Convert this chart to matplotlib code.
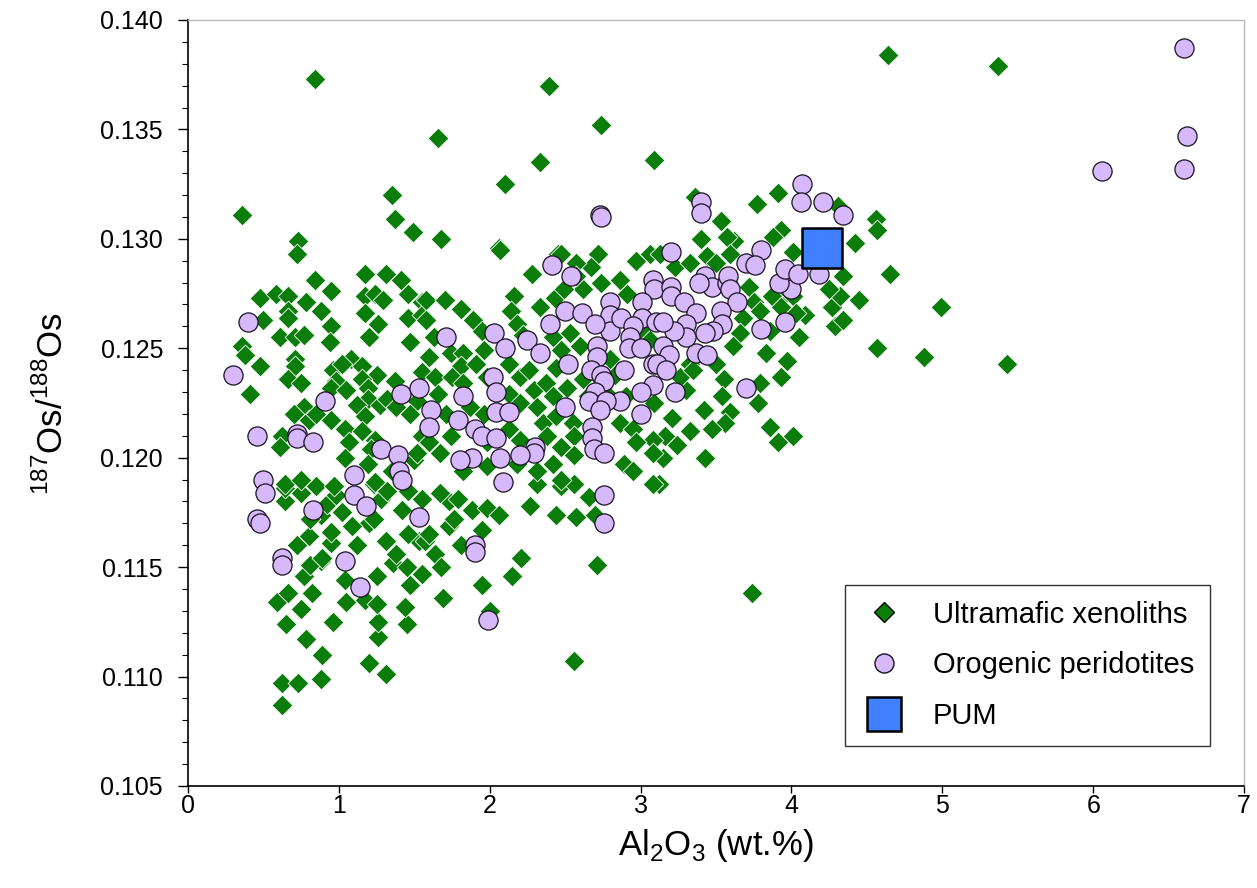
import numpy as np
import matplotlib.pyplot as plt
from matplotlib.lines import Line2D
from matplotlib.ticker import MultipleLocator, FormatStrFormatter

plt.rcParams['font.family'] = ['Liberation Sans', 'DejaVu Sans']
plt.rcParams['mathtext.fontset'] = 'custom'
plt.rcParams['mathtext.rm'] = 'Liberation Sans'

# ── Ultramafic xenoliths: Al2O3 (wt.%) and 187Os/188Os ──────
xeno_al = [
    0.84, 0.36, 1.35, 1.37, 1.49, 0.73, 0.72, 2.39, 2.74, 1.66,
    2.33, 3.09, 2.10, 1.68, 2.06, 2.45, 2.72, 3.06, 4.64, 3.91,
    3.77, 3.36, 4.31, 4.56, 4.57, 3.53, 4.42, 3.40, 3.93, 3.88,
    3.62, 3.57, 4.01, 5.37, 4.99, 4.88, 5.43,
    4.65, 4.45, 4.57, 4.29, 4.34, 4.27, 4.32, 4.34, 4.25, 3.83,
    3.97, 3.93, 4.05, 4.09, 3.92, 4.01, 3.79, 3.78, 3.55, 3.54,
    3.59, 3.56, 3.86, 3.91, 4.01, 3.30, 3.21, 3.16, 3.24, 3.15,
    3.43, 3.12, 3.08, 3.09,
    0.62, 0.62, 0.73, 0.88, 0.89, 1.20, 1.31, 0.78, 0.65, 0.96,
    1.26, 1.26, 1.45, 0.59, 0.66, 0.75, 0.82, 1.05, 1.17, 1.25,
    1.44, 1.04, 0.77, 1.25, 1.47, 0.88, 0.81, 0.72, 0.80, 0.95,
    1.12, 1.31, 1.36, 1.45, 1.55, 1.53, 1.46, 1.20, 1.23, 1.09,
    0.95, 0.88, 0.81, 0.64, 0.64, 0.75, 0.85, 0.92, 0.98, 1.02,
    1.28, 1.23, 1.32, 1.42, 1.46, 1.55, 1.57, 1.38, 0.89,
    2.56, 2.71, 2.00, 1.69, 1.95, 2.15, 2.21, 1.64, 1.68, 1.81,
    1.95, 1.73, 1.60, 1.76, 1.88, 1.98, 2.06, 1.73, 1.79, 1.67,
    2.27, 2.44, 2.57, 2.66, 2.70, 2.31, 2.47, 2.56, 3.08, 3.74,
    0.84, 0.95, 1.17, 1.31, 1.41, 0.48, 0.58, 0.66, 0.78, 1.46,
    1.55, 1.17, 1.24, 1.29, 0.66, 0.66, 0.50, 0.88, 1.17, 1.46,
    1.55, 1.26, 0.95, 1.20, 0.61, 0.71, 0.77, 0.94, 1.47, 0.36,
    0.38, 0.48, 0.71, 0.71, 0.66, 0.75, 0.41, 0.96, 0.98, 0.95,
    1.08, 1.02, 1.15, 1.25, 1.15, 1.19, 1.05, 1.19, 1.27, 1.32,
    1.12, 1.17, 0.77, 0.70, 0.80, 0.95, 0.85, 1.55, 1.52, 1.37,
    1.38, 1.47, 1.04, 1.15, 1.07, 1.24, 1.21, 0.62, 0.61, 1.04,
    1.19, 1.35, 1.50, 0.64, 0.75, 0.97, 1.55, 1.52, 1.24,
    2.07, 2.47, 2.28, 2.67, 2.74, 2.62, 2.43, 2.16, 2.14, 1.58,
    1.70, 1.81, 1.58, 1.63, 1.89, 1.95, 2.18, 2.22, 1.60, 1.74,
    1.82, 1.96, 1.81, 1.91, 1.98, 1.64, 1.75, 1.66, 1.82, 2.13,
    2.20, 2.26, 2.29, 2.37, 2.44, 2.42, 2.51, 2.13, 2.20, 2.31,
    2.35, 2.44, 2.55, 1.71, 1.87, 1.96, 1.60, 1.74, 1.98, 2.13,
    2.20, 2.38, 2.47, 2.56, 2.56, 1.67, 1.82, 1.98, 2.18, 2.31,
    2.42, 2.47, 2.89, 2.95, 2.86, 2.95, 2.97, 3.08, 2.57, 2.57,
    2.49, 2.33, 2.97, 2.53, 2.60, 3.02, 3.06, 2.42, 2.86, 2.91,
    2.47,
    3.23, 3.33, 3.44, 3.50, 3.59, 3.13, 3.72, 3.75, 3.68, 3.79,
    3.66, 3.61, 3.50, 3.33, 3.26, 3.35, 3.86, 4.03, 3.87, 3.93,
    2.83, 2.90, 2.80, 2.78, 2.62, 2.65, 3.42, 3.47, 3.33,
]
xeno_os = [
    0.1373, 0.1311, 0.1320, 0.1309, 0.1303, 0.1299, 0.1293, 0.1370, 0.1352, 0.1346,
    0.1335, 0.1336, 0.1325, 0.1300, 0.1296, 0.1293, 0.1293, 0.1293, 0.1384, 0.1321,
    0.1316, 0.1319, 0.1315, 0.1309, 0.1304, 0.1308, 0.1298, 0.1300, 0.1304, 0.1301,
    0.1299, 0.1301, 0.1294, 0.1379, 0.1269, 0.1246, 0.1243,
    0.1284, 0.1272, 0.1250, 0.1260, 0.1263, 0.1269, 0.1274, 0.1283, 0.1277, 0.1248,
    0.1244, 0.1237, 0.1255, 0.1265, 0.1272, 0.1274, 0.1234, 0.1225, 0.1236, 0.1228,
    0.1221, 0.1216, 0.1214, 0.1207, 0.1210, 0.1231, 0.1218, 0.1210, 0.1206, 0.1200,
    0.1200, 0.1188, 0.1208, 0.1225,
    0.1087, 0.1097, 0.1097, 0.1099, 0.1110, 0.1106, 0.1101, 0.1117, 0.1124, 0.1125,
    0.1118, 0.1125, 0.1124, 0.1134, 0.1138, 0.1131, 0.1138, 0.1134, 0.1135, 0.1133,
    0.1132, 0.1144, 0.1146, 0.1146, 0.1142, 0.1153, 0.1151, 0.1160, 0.1164, 0.1161,
    0.1160, 0.1162, 0.1152, 0.1150, 0.1147, 0.1162, 0.1165, 0.1170, 0.1172, 0.1169,
    0.1166, 0.1174, 0.1172, 0.1180, 0.1186, 0.1184, 0.1187, 0.1179, 0.1183, 0.1175,
    0.1181, 0.1188, 0.1185, 0.1176, 0.1185, 0.1181, 0.1162, 0.1156, 0.1154,
    0.1107, 0.1151, 0.1130, 0.1136, 0.1142, 0.1146, 0.1154, 0.1156, 0.1150, 0.1160,
    0.1167, 0.1169, 0.1165, 0.1172, 0.1176, 0.1177, 0.1174, 0.1180, 0.1181, 0.1184,
    0.1178, 0.1174, 0.1173, 0.1182, 0.1174, 0.1188, 0.1187, 0.1188, 0.1188, 0.1138,
    0.1281, 0.1276, 0.1284, 0.1284, 0.1281, 0.1273, 0.1275, 0.1274, 0.1271, 0.1275,
    0.1271, 0.1274, 0.1275, 0.1272, 0.1267, 0.1264, 0.1263, 0.1267, 0.1266, 0.1264,
    0.1265, 0.1261, 0.1260, 0.1255, 0.1255, 0.1255, 0.1256, 0.1253, 0.1253, 0.1251,
    0.1247, 0.1242, 0.1245, 0.1242, 0.1236, 0.1234, 0.1229, 0.1240, 0.1235, 0.1232,
    0.1245, 0.1243, 0.1242, 0.1238, 0.1236, 0.1232, 0.1231, 0.1227, 0.1224, 0.1227,
    0.1224, 0.1219, 0.1223, 0.1220, 0.1217, 0.1217, 0.1220, 0.1239, 0.1226, 0.1235,
    0.1223, 0.1220, 0.1213, 0.1212, 0.1207, 0.1208, 0.1204, 0.1210, 0.1205, 0.1200,
    0.1197, 0.1194, 0.1199, 0.1188, 0.1190, 0.1187, 0.1210, 0.1202, 0.1189,
    0.1295, 0.1293, 0.1284, 0.1287, 0.1280, 0.1277, 0.1273, 0.1274, 0.1267, 0.1272,
    0.1272, 0.1268, 0.1263, 0.1255, 0.1263, 0.1258, 0.1261, 0.1256, 0.1246, 0.1248,
    0.1248, 0.1249, 0.1242, 0.1243, 0.1237, 0.1237, 0.1237, 0.1229, 0.1234, 0.1243,
    0.1237, 0.1240, 0.1231, 0.1234, 0.1241, 0.1228, 0.1232, 0.1229, 0.1225, 0.1223,
    0.1216, 0.1219, 0.1216, 0.1220, 0.1223, 0.1220, 0.1207, 0.1210, 0.1207, 0.1213,
    0.1208, 0.1210, 0.1205, 0.1210, 0.1201, 0.1202, 0.1194, 0.1196, 0.1197, 0.1194,
    0.1197, 0.1190, 0.1197, 0.1194, 0.1216, 0.1213, 0.1207, 0.1202, 0.1289, 0.1283,
    0.1277, 0.1269, 0.1290, 0.1257, 0.1251, 0.1257, 0.1254, 0.1255, 0.1281, 0.1275,
    0.1249,
    0.1287, 0.1289, 0.1292, 0.1289, 0.1293, 0.1293, 0.1278, 0.1271, 0.1264, 0.1267,
    0.1257, 0.1251, 0.1243, 0.1243, 0.1237, 0.1240, 0.1258, 0.1266, 0.1274, 0.1269,
    0.1238, 0.1228, 0.1245, 0.1229, 0.1236, 0.1228, 0.1222, 0.1213, 0.1212,
]

# ── Orogenic peridotites ────────────────────────────────────
orog_al = [
    0.40, 0.30, 0.91, 0.46, 0.72, 0.72, 0.83, 1.41, 1.53, 1.28,
    1.39, 1.40, 1.42, 1.10, 0.50, 0.51, 0.46, 0.48, 0.62, 0.62,
    0.83, 1.04, 1.14, 1.10, 1.18, 1.53, 1.99, 1.90, 1.90, 2.09,
    2.76, 2.76, 2.41, 2.54, 3.08, 3.09, 2.80, 2.80, 2.80, 2.87,
    3.01, 3.01, 2.95, 2.93, 2.92, 3.00, 3.10, 2.50, 2.61, 2.70,
    2.40, 1.71, 2.03, 2.10, 2.25, 2.33, 2.52, 2.71, 2.71, 2.67,
    2.74, 2.76, 2.89, 3.08, 3.08, 3.00, 3.00, 2.86, 2.70, 2.66,
    2.77, 2.73, 2.50, 2.68, 2.68, 2.69, 2.76, 2.02, 2.04, 2.04,
    2.13, 1.82, 1.61, 1.60, 1.79, 1.90, 1.95, 2.04, 2.30, 2.29,
    2.20, 2.07, 1.88, 1.80, 2.73, 2.74, 4.07, 3.40, 3.40, 4.06,
    4.21, 4.34, 3.80, 3.20, 6.60, 6.62, 6.60, 6.06, 4.18, 4.00,
    3.92, 3.96, 4.04, 3.96, 3.80, 3.70, 3.23, 3.20, 3.20, 3.29,
    3.37, 3.43, 3.47, 3.57, 3.58, 3.59, 3.39, 3.64, 3.53, 3.54,
    3.48, 3.43, 3.37, 3.44, 3.30, 3.30, 3.22, 3.15, 3.15, 3.19,
    3.11, 3.17, 3.70, 3.76,
]
orog_os = [
    0.1262, 0.1238, 0.1226, 0.1210, 0.1211, 0.1209, 0.1207, 0.1229, 0.1232, 0.1204,
    0.1201, 0.1194, 0.1190, 0.1192, 0.1190, 0.1184, 0.1172, 0.1170, 0.1154, 0.1151,
    0.1176, 0.1153, 0.1141, 0.1183, 0.1178, 0.1173, 0.1126, 0.1160, 0.1157, 0.1189,
    0.1183, 0.1170, 0.1288, 0.1283, 0.1281, 0.1277, 0.1271, 0.1265, 0.1258, 0.1264,
    0.1271, 0.1264, 0.1260, 0.1255, 0.1250, 0.1250, 0.1262, 0.1267, 0.1266, 0.1261,
    0.1261, 0.1255, 0.1257, 0.1250, 0.1254, 0.1248, 0.1243, 0.1251, 0.1246, 0.1240,
    0.1238, 0.1235, 0.1240, 0.1243, 0.1233, 0.1230, 0.1220, 0.1226, 0.1230, 0.1226,
    0.1226, 0.1222, 0.1223, 0.1214, 0.1209, 0.1204, 0.1202, 0.1237, 0.1230, 0.1221,
    0.1221, 0.1228, 0.1222, 0.1214, 0.1217, 0.1213, 0.1210, 0.1209, 0.1205, 0.1202,
    0.1201, 0.1200, 0.1200, 0.1199, 0.1311, 0.1310, 0.1325, 0.1317, 0.1312, 0.1317,
    0.1317, 0.1311, 0.1295, 0.1294, 0.1387, 0.1347, 0.1332, 0.1331, 0.1284, 0.1277,
    0.1280, 0.1286, 0.1284, 0.1262, 0.1259, 0.1232, 0.1230, 0.1278, 0.1274, 0.1271,
    0.1266, 0.1283, 0.1278, 0.1280, 0.1283, 0.1277, 0.1280, 0.1271, 0.1267, 0.1261,
    0.1258, 0.1257, 0.1248, 0.1247, 0.1261, 0.1255, 0.1258, 0.1262, 0.1251, 0.1247,
    0.1243, 0.1240, 0.1289, 0.1288,
]

# ── Primitive upper mantle ──────────────────────────────────
pum_al = [4.2]
pum_os = [0.1296]

GREEN = '#0b7d0b'
LILAC = '#d5b9fb'
BLUE = '#4080ff'

fig = plt.figure(figsize=(12.57, 8.88), dpi=100)
ax = fig.add_axes([0.1496, 0.1149, 0.8401, 0.8626])

ax.scatter(xeno_al, xeno_os, marker='D', s=112, color=GREEN,
           edgecolors='white', linewidths=0.6, zorder=2)
ax.scatter(orog_al, orog_os, marker='o', s=190, color=LILAC,
           edgecolors='#1a1020', linewidths=0.9, zorder=3)
ax.scatter(pum_al, pum_os, marker='s', s=800, color=BLUE,
           edgecolors='black', linewidths=1.8, zorder=4)

ax.set_xlim(0, 7)
ax.set_ylim(0.105, 0.140)
ax.xaxis.set_major_locator(MultipleLocator(1))
ax.yaxis.set_major_locator(MultipleLocator(0.005))
ax.yaxis.set_minor_locator(MultipleLocator(0.001))
ax.yaxis.set_major_formatter(FormatStrFormatter('%.3f'))
ax.tick_params(axis='y', which='major', direction='out', length=7,
               width=1, labelsize=18, pad=11)
ax.tick_params(axis='x', which='major', direction='out', length=5,
               width=1, labelsize=18, pad=1)
ax.tick_params(axis='y', which='minor', direction='out', length=4, width=0.8)
ax.tick_params(top=False, right=False)

for side in ['left', 'bottom']:
    ax.spines[side].set_linewidth(1.2)
for side in ['top', 'right']:
    ax.spines[side].set_color('#bbbbbb')
    ax.spines[side].set_linewidth(1.0)

ax.set_xlabel(r'Al$_2$O$_3$ (wt.%)', fontsize=25, labelpad=6)
ax.set_ylabel(r'$^{187}$Os/$^{188}$Os', fontsize=25, labelpad=22)

handles = [
    Line2D([], [], linestyle='none', marker='D', markersize=10.2,
           markerfacecolor=GREEN, markeredgecolor='black', markeredgewidth=1.0),
    Line2D([], [], linestyle='none', marker='o', markersize=13.7,
           markerfacecolor=LILAC, markeredgecolor='#1a1020', markeredgewidth=1.0),
    Line2D([], [], linestyle='none', marker='s', markersize=25,
           markerfacecolor=BLUE, markeredgecolor='black', markeredgewidth=1.8),
]
leg = ax.legend(handles, ['Ultramafic xenoliths', 'Orogenic peridotites', 'PUM'],
                loc='lower right', bbox_to_anchor=(0.968, 0.052), fontsize=21,
                frameon=True, fancybox=False, framealpha=1, edgecolor='#333333',
                borderpad=0.55, labelspacing=0.78, handletextpad=0.88,
                handlelength=1.6, borderaxespad=0)
leg.get_frame().set_linewidth(1.0)

fig.savefig('out.png', dpi=100)
